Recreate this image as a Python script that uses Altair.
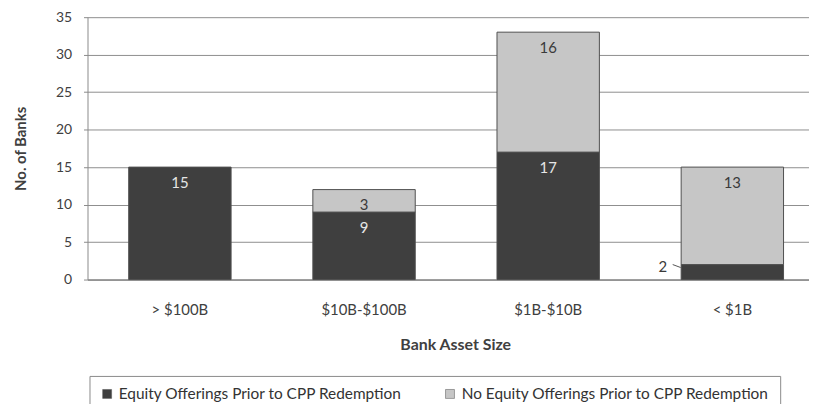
import altair as alt
import pandas as pd

categories = ["> $100B", "$10B-$100B", "$1B-$10B", "< $1B"]
series = ["Equity Offerings Prior to CPP Redemption", "No Equity Offerings Prior to CPP Redemption"]
equity = [15, 9, 17, 2]
no_equity = [0, 3, 16, 13]
y_ticks = [0, 5, 10, 15, 20, 25, 30, 35]
colors = ["#3f3f3f", "#c6c6c6"]

rows = []
for i, c in enumerate(categories):
    rows.append({"cat": c, "series": series[0], "value": equity[i], "ord": 0})
    rows.append({"cat": c, "series": series[1], "value": no_equity[i], "ord": 1})
df = pd.DataFrame(rows)
df = df[df["value"] > 0]

FONT = "Lato"
FS = 15
xscale = alt.Scale(domain=categories, paddingInner=0.444, paddingOuter=0.181, align=0.618)
yscale = alt.Scale(domain=[0, 35], nice=False)

base = alt.Chart(df).transform_stack(
    stack="value", groupby=["cat"], as_=["y0", "y1"], sort=[alt.SortField("ord")]
)

x_axis = alt.Axis(
    title="Bank Asset Size", labelAngle=0, labelFont=FONT, labelFontSize=FS,
    labelColor="#404040", ticks=False, tickSize=0, labelPadding=23,
    domainColor="#6a6a6a", titleFont=FONT, titleFontSize=16, titleFontWeight="bold",
    titleColor="#404040", titleX=370, titleY=65, titleBaseline="middle", titleAlign="center",
)
y_axis = alt.Axis(
    title="No. of Banks", values=y_ticks, tickCount=8, labelFont=FONT, labelFontSize=14,
    labelColor="#404040", tickSize=4, tickColor="#8a8a8a", labelPadding=12,
    domainColor="#8a8a8a", grid=True, gridColor="#8e8e8e", gridWidth=1,
    titleFont=FONT, titleFontSize=15, titleFontWeight="bold", titleColor="#404040",
    titleAngle=-90, titleX=-67, titleY=132, titleAlign="center", titleBaseline="middle",
    labelOverlap=False,
)

def xe():
    return alt.X("cat:N", scale=xscale, sort=categories, axis=x_axis)

def ye():
    return alt.Y("y1:Q", scale=yscale, axis=y_axis)

bars = base.mark_bar(stroke="#505050", strokeWidth=1).encode(
    x=xe(),
    y=ye(),
    y2="y0:Q",
    color=alt.Color(
        "series:N",
        scale=alt.Scale(domain=series, range=colors),
        legend=alt.Legend(
            title=None, orient="none", legendX=2, legendY=361, direction="horizontal",
            symbolType="square", symbolSize=81, symbolStrokeColor="#505050",
            symbolStrokeWidth=0.5, labelFont=FONT, labelFontSize=15.5, labelColor="#333333",
            labelOffset=4, columnPadding=40, padding=10, strokeColor="#8a8a8a",
            labelLimit=500,
        ),
    ),
    order=alt.Order("ord:Q"),
)

labels = base.transform_filter("datum.value >= 3").mark_text(
    dy=16, fontSize=FS, font=FONT, baseline="middle"
).encode(
    x=xe(),
    y=ye(),
    text="value:Q",
    color=alt.condition("datum.ord == 0", alt.value("#e6e6e6"), alt.value("#3a3a3a")),
)

small_label = base.transform_filter("datum.value < 3").mark_text(
    dx=-70, dy=3, fontSize=FS, font=FONT, baseline="middle", color="#3a3a3a"
).encode(
    x=xe(),
    y=ye(),
    text="value:Q",
)

leader = base.transform_filter("datum.value < 3").mark_rule(
    xOffset=-60, x2Offset=-52, yOffset=0, y2Offset=3, color="#555555", strokeWidth=1
).encode(
    x=xe(),
    x2="cat:N",
    y=ye(),
    y2="y1:Q",
)

chart = alt.layer(bars, labels, small_label, leader).properties(
    width=726,
    height=264,
    autosize=alt.AutoSizeParams(type="none"),
    padding={"left": 80, "top": 8, "right": 0, "bottom": 124},
    background="white",
).configure_view(stroke=None)

chart.save("out.html", embed_options={"renderer": "svg", "actions": False})
